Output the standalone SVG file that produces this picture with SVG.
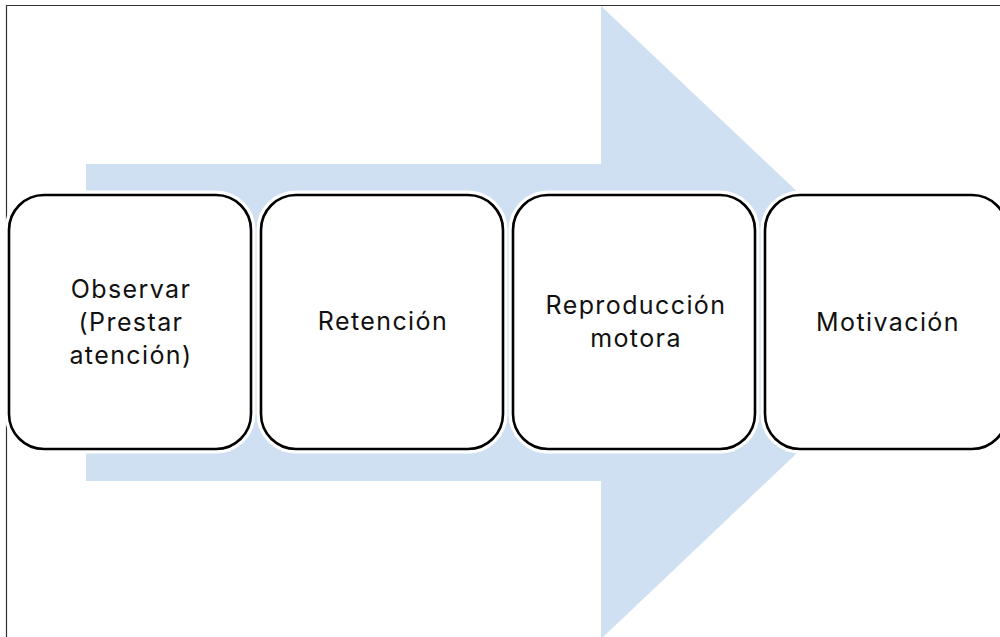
<svg xmlns="http://www.w3.org/2000/svg" width="1000" height="637" viewBox="0 0 1000 637">
  <style>
    .box { fill: #ffffff; stroke: #000000; stroke-width: 2.6; }
    .halo { fill: none; stroke: #ffffff; stroke-width: 9; }
    .lbl { font-family: Inter, "Liberation Sans", sans-serif; font-size: 25px; fill: #111111; text-anchor: middle; letter-spacing: 1.4px; }
  </style>
  <rect x="0" y="0" width="1000" height="637" fill="#ffffff"/>
  <g id="arrow">
    <polygon points="86,164 601,164 601,6 935,322 601,639 601,481 86,481" fill="#cfe0f2"/>
  </g>
  <g id="frame">
    <line x1="6" y1="5.5" x2="1000" y2="5.5" stroke="#333333" stroke-width="1.2"/>
    <line x1="6.5" y1="5" x2="6.5" y2="637" stroke="#333333" stroke-width="1.2"/>
  </g>
  <g id="connectors"></g>
  <g id="node1">
    <rect class="halo" x="9" y="195" width="242" height="254" rx="35"/>
    <rect class="box" x="9" y="195" width="242" height="254" rx="35"/>
    <text class="lbl" x="131" y="298">Observar</text>
    <text class="lbl" x="131" y="331">(Prestar</text>
    <text class="lbl" x="131" y="364">atención)</text>
  </g>
  <g id="node2">
    <rect class="halo" x="261" y="195" width="242" height="254" rx="35"/>
    <rect class="box" x="261" y="195" width="242" height="254" rx="35"/>
    <text class="lbl" x="383" y="330">Retención</text>
  </g>
  <g id="node3">
    <rect class="halo" x="513" y="195" width="242" height="254" rx="35"/>
    <rect class="box" x="513" y="195" width="242" height="254" rx="35"/>
    <text class="lbl" x="636" y="314">Reproducción</text>
    <text class="lbl" x="636" y="347">motora</text>
  </g>
  <g id="node4">
    <rect class="halo" x="765" y="195" width="242" height="254" rx="35"/>
    <rect class="box" x="765" y="195" width="242" height="254" rx="35"/>
    <text class="lbl" x="888" y="331">Motivación</text>
  </g>
</svg>
